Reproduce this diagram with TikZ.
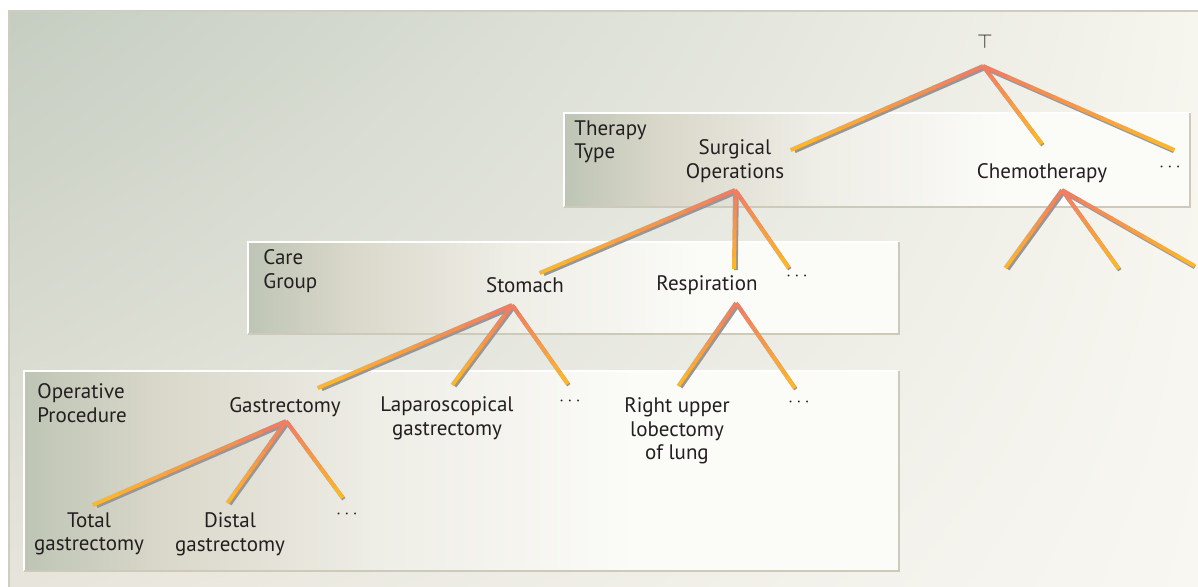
\documentclass[tikz,border=0pt]{standalone}
\usepackage{fontspec}
\setmainfont{PT Sans}
\usetikzlibrary{calc,shadings}
\definecolor{inktext}{HTML}{231F20}
\definecolor{panelTL}{HTML}{C5CDC1}
\definecolor{panelTR}{HTML}{F6F5EE}
\definecolor{panelBL}{HTML}{E7E5DB}
\definecolor{panelBR}{HTML}{F8F7F2}
\definecolor{panelrule}{HTML}{CFCEBC}
\definecolor{boxgray}{HTML}{BEC5B5}
\definecolor{boxmid}{HTML}{DAD8CA}
\definecolor{boxlight}{HTML}{EEEDE6}
\definecolor{boxwhite}{HTML}{FBFBF8}
\definecolor{boxrule}{HTML}{CDCAB9}
\definecolor{branchtop}{HTML}{EF7F62}
\definecolor{branchend}{HTML}{FBB52F}
\definecolor{branchgray}{HTML}{96979A}
\pgfdeclarehorizontalshading{boxfade}{100bp}{color(0bp)=(boxgray); color(25bp)=(boxgray); color(33bp)=(boxmid); color(45bp)=(boxlight); color(60bp)=(boxwhite); color(100bp)=(boxwhite)}
\tikzset{
  levelname/.style={text=inktext, font=\fontsize{10.5}{11.8}\selectfont, align=left, inner sep=0pt, anchor=west},
  term/.style={text=inktext, font=\fontsize{10.5}{11.8}\selectfont, align=center, inner sep=0pt},
  more/.style={text=inktext, font=\fontsize{9}{10}\selectfont, inner sep=0pt},
  branch/.style={line width=2pt},
}

\begin{document}
\begin{tikzpicture}[x=0.5pt, y=-0.5pt]

  \newcommand\branchshadow[2]{\draw[branch, branchgray] ($(#1)+(1.8,2.2)$) -- ($(#2)+(1.8,2.2)$);}
  \newcommand\branchline[2]{%
    \foreach \k in {0,...,7}{%
      \pgfmathtruncatemacro\mixpct{100-100*\k/7}%
      \pgfmathsetmacro\segA{\k/8}%
      \pgfmathsetmacro\segB{(\k+1.1)/8}%
      \draw[branch, color=branchtop!\mixpct!branchend] ($(#1)!\segA!(#2)$) -- ($(#1)!\segB!(#2)$);}}

  \useasboundingbox (0,0) rectangle (1198,587);

  %% panel
  \shade[upper left=panelTL, upper right=panelTR, lower left=panelBL, lower right=panelBR] (9,11) rectangle (1198,587);
  \draw[panelrule, line width=1pt] (9,587) -- (9,11) -- (1198,11);

  %% level boxes
  \shade[shading=boxfade] (564,113) rectangle (1190,207);
  \draw[white, line width=1pt] (564,207) |- (1190,113);
  \draw[boxrule, line width=1pt] (564,207) -| (1190,113);

  \shade[shading=boxfade] (248,242) rectangle (899,334);
  \draw[white, line width=1pt] (248,334) |- (899,242);
  \draw[boxrule, line width=1pt] (248,334) -| (899,242);

  \shade[shading=boxfade] (24,371) rectangle (899,571);
  \draw[white, line width=1pt] (24,571) |- (899,371);
  \draw[boxrule, line width=1pt] (24,571) -| (899,371);

  \node[levelname] (lv-ther) at (574,142) {Therapy\\Type};
  \node[levelname] (lv-care) at (263,271) {Care\\Group};
  \node[levelname] (lv-op) at (37,403) {Operative\\Procedure};

  %% terms
  \node[term, font=\fontsize{10}{11}\selectfont] (top) at (985,42) {$\top$};
  \node[term] (surg-t) at (735,161) {Surgical\\Operations};
  \node[term] (chemo-t) at (1042,173) {Chemotherapy};
  \node[more] (more-1) at (1170,167) {$\cdots$};
  \node[term] (stom-t) at (525,285) {Stomach};
  \node[term] (resp-t) at (707,285) {Respiration};
  \node[more] (more-2) at (797,276) {$\cdots$};
  \node[term] (gast-t) at (285,407) {Gastrectomy};
  \node[term] (lap-t) at (447,418) {Laparoscopical\\gastrectomy};
  \node[more] (more-3) at (570,401) {$\cdots$};
  \node[term] (rul-t) at (677,431) {Right upper\\lobectomy\\of lung};
  \node[more] (more-4) at (799,402) {$\cdots$};
  \node[term] (total-t) at (89,534) {Total\\gastrectomy};
  \node[term] (distal-t) at (230,534) {Distal\\gastrectomy};
  \node[more] (more-5) at (347,514) {$\cdots$};

  %% apexes and branch ends
  \coordinate (root) at (983,66);
  \coordinate (surg) at (735,190);
  \coordinate (chemo) at (1062,190);
  \coordinate (stom) at (512,305);
  \coordinate (resp) at (736,303);
  \coordinate (gast) at (286,421);
  \coordinate (ther-1) at (793,149);
  \coordinate (ther-2) at (1041,143);
  \coordinate (ther-3) at (1172,149);
  \coordinate (care-1) at (542,272);
  \coordinate (care-2) at (734,268);
  \coordinate (care-3) at (788,267);
  \coordinate (chemo-1) at (1006,267);
  \coordinate (chemo-2) at (1118,268);
  \coordinate (chemo-3) at (1193,265);
  \coordinate (op-1) at (320,387);
  \coordinate (op-2) at (453,384);
  \coordinate (op-3) at (567,383);
  \coordinate (op-4) at (679,385);
  \coordinate (op-5) at (794,387);
  \coordinate (gast-1) at (95,504);
  \coordinate (gast-2) at (228,502);
  \coordinate (gast-3) at (342,497);

  \newcommand\branchlist{root/ther-1, root/ther-2, root/ther-3, surg/care-1, surg/care-2, surg/care-3,
    chemo/chemo-1, chemo/chemo-2, chemo/chemo-3, stom/op-1, stom/op-2, stom/op-3, resp/op-4, resp/op-5,
    gast/gast-1, gast/gast-2, gast/gast-3}
  \foreach \a/\b in \branchlist {\branchshadow{\a}{\b}}
  \foreach \a/\b in \branchlist {\branchline{\a}{\b}}

\end{tikzpicture}
\end{document}
